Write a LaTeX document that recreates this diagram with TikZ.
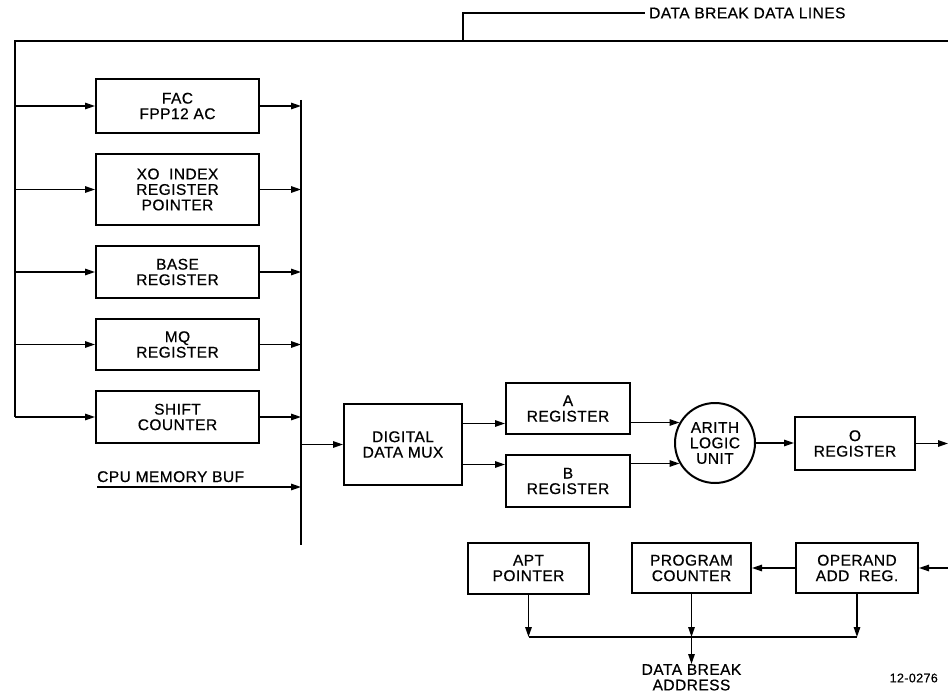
\documentclass[tikz,border=0pt]{standalone}
\usepackage{fontspec}
\setmainfont{Liberation Sans}[FakeBold=0.6, LetterSpace=3]
\usetikzlibrary{arrows.meta, positioning, calc}

\begin{document}
\begin{tikzpicture}[
    x=1pt, y=-1pt,
    font=\fontsize{15.5}{15.5}\selectfont,
    block/.style={rectangle, draw, line width=2pt, align=center, minimum width=163pt, inner sep=2pt},
    arrow/.style={-{Triangle[length=10pt,width=6.5pt]}, line width=1.4pt},
    line/.style={line width=1.4pt}
]
\useasboundingbox (0,0) rectangle (948,698);

% register stack
\node (fac) [block, minimum height=54pt] at (177.5,106) {FAC\\FPP12 AC};
\node (xo) [block, minimum height=71pt, below=19pt of fac] {XO\ \ INDEX\\REGISTER\\POINTER};
\node (base) [block, minimum height=52pt, below=19pt of xo] {BASE\\REGISTER};
\node (mq) [block, minimum height=51pt, below=19pt of base] {MQ\\REGISTER};
\node (shift) [block, minimum height=52pt, below=19pt of mq] {SHIFT\\COUNTER};

% datapath
\node (mux) [block, minimum width=118pt, minimum height=81pt] at (403,444.5) {DIGITAL\\DATA MUX};
\node (areg) [block, minimum width=124pt, minimum height=51pt] at (568,408.5) {A\\REGISTER};
\node (breg) [block, minimum width=124pt, minimum height=52pt, below=19pt of areg] {B\\REGISTER};
\node (alu) [circle, draw, line width=2pt, minimum size=80pt, align=center, inner sep=0pt] at (715,443) {ARITH\\LOGIC\\UNIT};
\node (oreg) [block, minimum width=120pt, minimum height=53pt] at (855,443.5) {O\\REGISTER};

% address row
\node (pc) [block, minimum width=119pt, minimum height=50pt] at (691.5,568) {PROGRAM\\COUNTER};
\node (opr) [block, minimum width=122pt, minimum height=50pt, right=43pt of pc] {OPERAND\\ADD\ \ REG.};
\node (apt) [block, minimum width=121pt, minimum height=51pt, left=41pt of pc] {APT\\POINTER};

% labels
\node (dbl) [anchor=west, inner sep=4pt] at (645,13) {DATA BREAK DATA LINES};
\node (cpu) [anchor=base west, inner sep=0pt] at (97,482) {CPU MEMORY BUF};
\node (fig) [anchor=east, inner sep=0pt, font=\fontsize{12.5}{12}\selectfont] at (938,678) {12-0276};

\coordinate (topL) at (15,41);
\coordinate (topR) at (948,41);
\coordinate (tap) at (463,41);
\coordinate (busT) at (301,100);
\coordinate (busB) at (301,545);
\coordinate (cpuin) at (97,487);
\coordinate (abus) at ($(pc.south)+(0,43)$);
\node (dba) [below=27pt of abus, align=center, inner sep=0pt] {DATA BREAK\\ADDRESS};

% data break lines
\draw [line] (topR) -- (topL) -- (topL |- shift.west);
\draw [line] (tap) |- (dbl.west);
\foreach \r in {fac,xo,base,mq,shift} {
    \draw [arrow] (topL |- \r.west) -- (\r.west);
    \draw [arrow] (\r.east) -- (\r.east -| busT);
}
\draw [line] (busT) -- (busB);
\draw [arrow] (cpuin) -- (cpuin -| busT);

\draw [arrow] (mux.west -| busT) -- (mux.west);
\draw [arrow] ([yshift=21pt]mux.east) -- ([yshift=21pt]mux.east -| areg.west);
\draw [arrow] ([yshift=-20pt]mux.east) -- ([yshift=-20pt]mux.east -| breg.west);
\draw [arrow] (alu.150 -| areg.east) -- (alu.150);
\draw [arrow] (alu.210 -| breg.east) -- (alu.210);
\draw [arrow] (alu.east) -- (alu.east -| oreg.west);
\draw [arrow] (oreg.east) -- (oreg.east -| topR);

% address outputs
\draw [arrow] (opr.east -| topR) -- (opr.east);
\draw [arrow] (opr.west) -- (pc.east);
\draw [arrow] (apt.south) -- (apt.south |- abus);
\draw [arrow] (pc.south) -- (abus);
\draw [arrow] (opr.south) -- (opr.south |- abus);
\draw [line] (apt.south |- abus) -- (opr.south |- abus);
\draw [arrow] (abus) -- (dba.north);

\end{tikzpicture}
\end{document}
